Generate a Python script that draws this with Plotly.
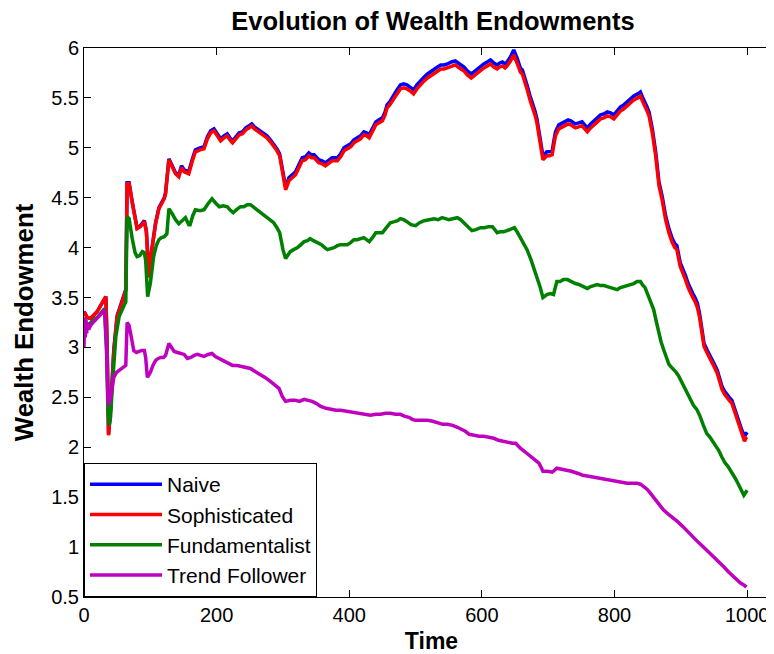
import plotly.graph_objects as go

# ---------------- data ----------------
t_red = [0,2,5,10,15,20,25,30,33,35,37,40,45,50,55,60,63,65,68,73,80,85,91,94,98,100,104,108,113,118,121,123,128,133,138,143,147,151,158,163,168,175,181,186,191,196,201,206,211,216,220,224,229,234,239,244,249,253,257,261,265,269,276,281,286,291,295,299,302,304,307,309,314,319,324,329,334,339,343,347,354,359,364,369,374,382,387,392,397,402,407,412,417,422,426,430,435,440,445,450,454,457,461,465,471,477,482,487,492,497,502,508,513,518,523,528,533,538,543,548,554,560,566,573,578,584,588,593,598,603,608,613,618,623,627,631,635,638,643,648,653,658,661,665,668,673,676,680,683,686,688,690,692,695,698,702,706,709,711,716,721,726,730,734,738,741,746,751,755,759,764,769,774,779,784,789,794,799,804,809,814,819,824,829,835,839,842,846,849,852,857,862,867,872,877,882,887,891,894,899,903,907,911,914,918,922,925,928,932,935,940,945,950,955,958,962,966,970,973,977,981,985,989,992,996,998,1000]

sophisticated = [3.36,3.34,3.30,3.29,3.32,3.36,3.42,3.48,3.51,2.97,2.12,2.37,2.97,3.31,3.41,3.49,3.57,4.64,4.64,4.44,4.19,4.21,4.26,4.16,3.70,3.87,4.08,4.24,4.39,4.46,4.49,4.54,4.88,4.81,4.74,4.71,4.80,4.76,4.74,4.86,4.96,4.98,4.99,5.09,5.15,5.17,5.12,5.07,5.10,5.12,5.08,5.05,5.09,5.13,5.14,5.18,5.20,5.22,5.19,5.17,5.15,5.13,5.10,5.06,5.02,4.97,4.92,4.75,4.63,4.58,4.63,4.67,4.70,4.73,4.80,4.87,4.88,4.92,4.90,4.90,4.85,4.84,4.82,4.85,4.87,4.87,4.91,4.97,4.99,5.01,5.05,5.07,5.09,5.13,5.12,5.10,5.17,5.23,5.25,5.27,5.33,5.40,5.43,5.47,5.53,5.59,5.60,5.59,5.57,5.54,5.59,5.64,5.67,5.70,5.72,5.75,5.77,5.79,5.79,5.80,5.82,5.83,5.80,5.77,5.73,5.70,5.72,5.75,5.77,5.80,5.82,5.84,5.81,5.79,5.81,5.82,5.80,5.82,5.87,5.93,5.85,5.76,5.74,5.66,5.59,5.47,5.42,5.33,5.25,5.14,5.05,4.96,4.88,4.90,4.92,4.92,4.93,5.05,5.12,5.19,5.21,5.22,5.24,5.23,5.21,5.20,5.21,5.22,5.19,5.16,5.20,5.23,5.26,5.29,5.30,5.32,5.31,5.29,5.33,5.37,5.39,5.42,5.44,5.48,5.50,5.52,5.47,5.40,5.37,5.32,5.15,4.92,4.62,4.47,4.28,4.15,4.05,4.00,3.98,3.81,3.75,3.68,3.60,3.55,3.50,3.45,3.40,3.31,3.15,3.01,2.94,2.88,2.81,2.74,2.67,2.58,2.53,2.49,2.47,2.44,2.36,2.27,2.19,2.14,2.06,2.09,2.08]

naive = [3.36,3.34,3.30,3.29,3.32,3.36,3.42,3.48,3.51,2.98,2.13,2.38,2.98,3.32,3.42,3.50,3.58,4.65,4.65,4.45,4.20,4.22,4.27,4.17,3.71,3.88,4.09,4.25,4.40,4.47,4.50,4.55,4.89,4.82,4.75,4.73,4.82,4.78,4.76,4.88,4.98,5.00,5.01,5.11,5.17,5.19,5.14,5.09,5.12,5.14,5.10,5.07,5.11,5.15,5.16,5.20,5.22,5.24,5.21,5.19,5.17,5.15,5.12,5.08,5.04,4.99,4.94,4.78,4.66,4.61,4.66,4.70,4.73,4.76,4.83,4.90,4.91,4.95,4.93,4.93,4.88,4.87,4.85,4.88,4.90,4.90,4.94,5.00,5.02,5.04,5.08,5.10,5.12,5.16,5.15,5.13,5.20,5.26,5.28,5.30,5.36,5.43,5.46,5.51,5.57,5.63,5.64,5.63,5.61,5.58,5.63,5.68,5.71,5.74,5.76,5.79,5.81,5.83,5.83,5.84,5.86,5.87,5.84,5.81,5.77,5.74,5.76,5.79,5.81,5.84,5.86,5.88,5.85,5.83,5.85,5.86,5.84,5.86,5.91,5.98,5.90,5.80,5.78,5.70,5.63,5.51,5.46,5.37,5.29,5.18,5.09,5.00,4.92,4.94,4.96,4.96,4.97,5.09,5.16,5.23,5.25,5.26,5.28,5.27,5.25,5.24,5.25,5.26,5.23,5.20,5.24,5.27,5.30,5.33,5.34,5.36,5.35,5.33,5.37,5.41,5.43,5.46,5.48,5.52,5.54,5.56,5.51,5.44,5.41,5.36,5.19,4.96,4.66,4.51,4.32,4.19,4.09,4.04,4.02,3.85,3.79,3.72,3.64,3.59,3.54,3.49,3.44,3.35,3.18,3.04,2.97,2.91,2.84,2.77,2.70,2.61,2.56,2.52,2.50,2.47,2.39,2.30,2.22,2.17,2.11,2.14,2.15]

t_fund = [0,3,6,10,15,20,25,31,34,36,38,40,43,48,53,58,63,65,68,73,77,80,84,88,91,93,96,100,105,109,113,117,121,125,128,133,138,143,146,151,153,158,160,164,168,175,181,187,193,198,204,210,216,220,225,230,236,241,246,251,257,264,270,276,281,286,291,295,298,300,304,308,311,316,322,327,332,337,341,346,352,358,363,367,372,377,382,387,392,397,402,407,412,417,422,426,430,435,440,445,450,456,462,468,473,477,482,487,493,500,506,513,520,528,534,540,545,550,556,563,568,573,579,585,591,598,604,610,616,620,623,628,633,638,642,646,649,653,658,663,668,674,681,685,688,692,695,698,703,708,713,718,723,729,735,741,747,753,759,764,769,774,779,784,789,794,799,804,809,814,819,824,829,834,839,842,846,849,854,859,863,867,870,874,878,882,886,889,893,897,900,904,909,914,919,924,927,929,934,939,944,950,954,957,962,967,971,975,978,982,986,990,993,995,998,1000]

fundamentalist = [3.30,3.22,3.22,3.25,3.28,3.30,3.34,3.39,3.00,2.40,2.22,2.30,2.64,3.11,3.31,3.39,3.46,4.31,4.29,4.08,3.95,3.91,3.92,3.96,3.95,3.87,3.51,3.64,3.91,4.02,4.08,4.10,4.11,4.14,4.39,4.34,4.28,4.24,4.26,4.29,4.30,4.23,4.23,4.32,4.38,4.37,4.38,4.44,4.49,4.45,4.41,4.42,4.41,4.38,4.35,4.38,4.41,4.41,4.43,4.43,4.40,4.36,4.34,4.31,4.28,4.25,4.20,4.15,4.05,3.98,3.89,3.93,3.96,3.98,4.00,4.03,4.06,4.07,4.09,4.07,4.05,4.03,4.00,3.98,3.99,4.00,4.02,4.03,4.03,4.03,4.05,4.08,4.08,4.09,4.10,4.08,4.06,4.10,4.15,4.15,4.15,4.20,4.25,4.26,4.27,4.29,4.28,4.26,4.23,4.22,4.25,4.27,4.28,4.29,4.28,4.30,4.29,4.28,4.29,4.30,4.28,4.25,4.21,4.17,4.18,4.20,4.20,4.21,4.21,4.18,4.15,4.16,4.16,4.17,4.18,4.19,4.20,4.16,4.10,4.04,3.98,3.88,3.75,3.67,3.60,3.50,3.52,3.53,3.54,3.53,3.66,3.66,3.68,3.68,3.66,3.64,3.63,3.61,3.59,3.61,3.62,3.63,3.62,3.62,3.61,3.60,3.59,3.58,3.60,3.61,3.62,3.63,3.64,3.66,3.66,3.63,3.60,3.55,3.47,3.38,3.26,3.14,3.06,2.98,2.90,2.83,2.80,2.78,2.75,2.71,2.67,2.61,2.54,2.47,2.42,2.38,2.34,2.31,2.22,2.14,2.10,2.04,2.00,1.97,1.90,1.84,1.81,1.77,1.73,1.69,1.64,1.59,1.55,1.52,1.55,1.57]

t_trend = [0,1,2,3,4,5,7,10,15,20,25,31,34,36,37,40,45,49,53,58,63,65,68,72,75,79,83,87,91,93,95.5,100,104,108,112,116,120,123,128,132,136,141,146,151,156,161,166,171,176,181,187,193,198,206,212,218,224,231,239,245,251,258,266,273,281,288,294,299,304,311,319,325,332,338,344,350,357,365,372,380,387,395,402,410,417,425,432,440,447,455,462,470,477,484,490,495,500,510,518,526,533,541,548,556,563,570,575,581,588,596,603,611,618,625,631,636,641,646,651,655,658,664,671,678,686,690,692,699,706,713,720,726,735,744,752,761,770,779,789,799,809,819,828,834,839,844,849,854,859,864,869,874,881,889,896,904,911,919,926,934,942,950,957,965,972,980,985,990,995,999]

trend_follower = [3.00,3.30,3.10,3.28,3.14,3.25,3.18,3.22,3.26,3.29,3.33,3.38,2.97,2.50,2.42,2.50,2.70,2.75,2.77,2.80,2.82,3.25,3.22,3.08,2.97,2.95,2.96,2.97,2.97,2.90,2.70,2.75,2.82,2.87,2.89,2.90,2.90,2.92,3.04,3.00,2.96,2.95,2.94,2.93,2.89,2.90,2.92,2.93,2.92,2.91,2.93,2.94,2.91,2.88,2.86,2.84,2.82,2.82,2.81,2.80,2.79,2.76,2.73,2.70,2.66,2.62,2.59,2.51,2.46,2.47,2.47,2.46,2.48,2.47,2.46,2.44,2.41,2.39,2.38,2.37,2.37,2.36,2.36,2.35,2.34,2.33,2.32,2.33,2.33,2.34,2.34,2.33,2.33,2.31,2.30,2.28,2.27,2.27,2.27,2.26,2.25,2.23,2.23,2.22,2.20,2.18,2.16,2.13,2.12,2.11,2.11,2.10,2.09,2.07,2.06,2.05,2.04,2.04,2.04,2.01,1.99,1.96,1.92,1.88,1.84,1.79,1.76,1.76,1.75,1.79,1.78,1.78,1.76,1.74,1.72,1.71,1.70,1.69,1.67,1.66,1.65,1.64,1.64,1.64,1.63,1.61,1.58,1.54,1.50,1.46,1.41,1.37,1.33,1.29,1.25,1.20,1.15,1.10,1.05,1.00,0.95,0.90,0.85,0.80,0.75,0.70,0.67,0.64,0.62,0.60]

x_ticks = [0, 200, 400, 600, 800, 1000]
y_ticks = [0.5, 1, 1.5, 2, 2.5, 3, 3.5, 4, 4.5, 5, 5.5, 6]

series = [
    ("Naive", t_red, naive, "#0000FF"),
    ("Sophisticated", t_red, sophisticated, "#FF0000"),
    ("Fundamentalist", t_fund, fundamentalist, "#008000"),
    ("Trend Follower", t_trend, trend_follower, "#BF00BF"),
]

FONT = "Liberation Sans, Arial, Helvetica, sans-serif"

fig = go.Figure()
for i, (name, tx, vy, col) in enumerate(series):
    fig.add_trace(go.Scatter(x=tx, y=vy, mode="lines", name=name,
                             legendgroup=f"g{i}",
                             line=dict(color=col, width=3.5)))

# page body adds an 8px offset; margins compensate for it
fig.update_layout(
    width=774, height=654,
    paper_bgcolor="white", plot_bgcolor="white",
    margin=dict(l=76, r=3, t=40, b=65, autoexpand=False),
    title=dict(text="<b>Evolution of Wealth Endowments</b>", x=0.549, xanchor="center",
               xref="container", yref="container", y=0.98, yanchor="middle",
               font=dict(family=FONT, size=25.5, color="black")),
    font=dict(family=FONT, color="black"),
    showlegend=True,
    legend=dict(x=0, y=0, xanchor="left", yanchor="bottom",
                bgcolor="white", bordercolor="black", borderwidth=1,
                font=dict(family=FONT, size=21, color="black"),
                tracegroupgap=0, itemwidth=72),
    hovermode=False,
)
fig.update_xaxes(range=[0, 1048], tickvals=x_ticks, ticktext=[str(v) for v in x_ticks],
                 ticks="inside", ticklen=7, tickcolor="black", showline=True,
                 linecolor="black", linewidth=1, mirror="ticks", showgrid=False,
                 zeroline=False, automargin=False,
                 tickfont=dict(family=FONT, size=20, color="black"),
                 title=dict(text="<b>Time</b>", font=dict(family=FONT, size=23, color="black"),
                            standoff=7))
fig.update_yaxes(range=[0.5, 6], tickvals=y_ticks, ticktext=[f"{v:g}" for v in y_ticks],
                 ticks="inside", ticklen=7, tickcolor="black", showline=True,
                 linecolor="black", linewidth=1, mirror="ticks", showgrid=False,
                 zeroline=False, automargin=False,
                 tickfont=dict(family=FONT, size=20, color="black"),
                 title=dict(text="<b>Wealth Endowment</b>", font=dict(family=FONT, size=25.8, color="black"),
                            standoff=10))

fig.write_html("out.html", config={"displayModeBar": False})
